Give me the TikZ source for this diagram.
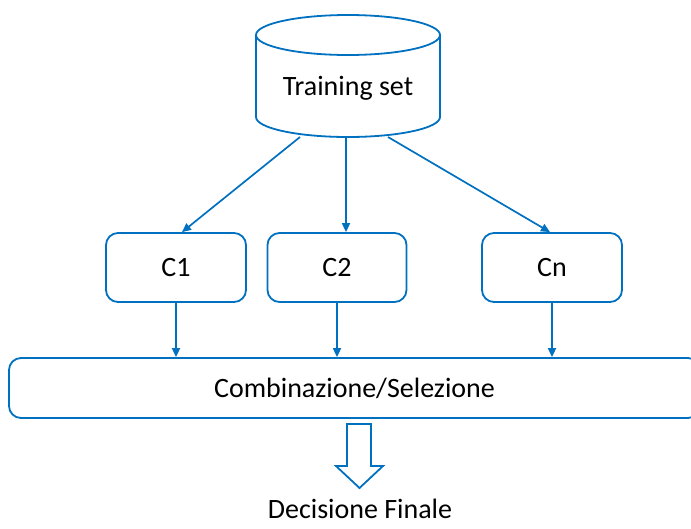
\documentclass[tikz,border=0pt]{standalone}
\usepackage{fontspec}
\setmainfont{Carlito}
\usetikzlibrary{arrows.meta, positioning}
\definecolor{lineblue}{RGB}{0,112,192}

\begin{document}
\begin{tikzpicture}[x=1pt, y=-1pt,
  box/.style={draw=lineblue, line width=1.8pt, rounded corners=12pt, minimum width=140pt, minimum height=69pt, font=\fontsize{28}{32}\selectfont},
  link/.style={draw=lineblue, line width=1.7pt, -{Triangle[length=9pt, width=8pt]}},
  dbline/.style={draw=lineblue, line width=1.8pt}]
\useasboundingbox (0,0) rectangle (691,528);
\clip (0,0) rectangle (691,528);

% database
\draw[dbline] (256, 35) -- (256, 117) arc[start angle=180, end angle=0, x radius=92, y radius=20] -- (440, 35);
\draw[dbline] (348, 35) ellipse[x radius=92, y radius=20];
\node[font=\fontsize{28}{32}\selectfont] (train) at (348, 88) {Training set};
\coordinate (trainbase) at (348, 137);

\node[box] (c1) at (176, 267.5) {C1};
\node[box, minimum width=139pt] (c2) at (337, 267.5) {C2};
\node[box] (cn) at (552, 267.5) {Cn};

\node[box, minimum width=691pt, minimum height=60pt] (comb) at (354.5, 388) {Combinazione/Selezione};

\node[font=\fontsize{28}{32}\selectfont, anchor=base, inner sep=0pt] (final) at (360, 518) {Decisione Finale};

\draw[link] ([xshift=-48pt]trainbase) -- ([xshift=6pt]c1.north);
\draw[link] ([xshift=-2pt]trainbase) -- ([xshift=9pt]c2.north);
\draw[link] ([xshift=40pt]trainbase) -- ([xshift=-2pt]cn.north);

\draw[link] (c1.south) -- (c1.south |- comb.north);
\draw[link] (c2.south) -- (c2.south |- comb.north);
\draw[link] (cn.south) -- (cn.south |- comb.north);

% hollow arrow
\draw[lineblue, line width=1.8pt, line join=miter] (347, 424) -- (371, 424) -- (371, 466) -- (383, 466) -- (359.5, 488) -- (336, 466) -- (347, 466) -- cycle;
\end{tikzpicture}
\end{document}
